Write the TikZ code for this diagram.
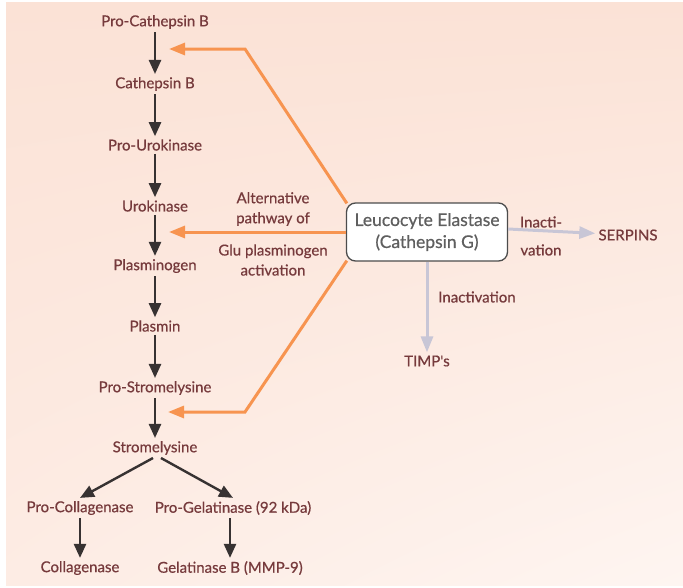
\documentclass[tikz,border=0pt]{standalone}
\usepackage{fontspec}
\setmainfont{Lato}
\newfontfamily\labelfont{Lato}[FakeBold=0.6]
\usetikzlibrary{arrows.meta, shadings}
\definecolor{peach}{RGB}{251,226,214}
\definecolor{peachmid}{RGB}{253,236,228}
\definecolor{peachlight}{RGB}{254,245,241}
\definecolor{textbrown}{RGB}{118,58,60}
\definecolor{boxgrey}{RGB}{95,95,95}
\definecolor{arroworange}{RGB}{247,148,80}
\definecolor{arrowgrey}{RGB}{200,198,214}
\definecolor{arrowdark}{RGB}{55,50,50}
\tikzset{
    step-label/.style = {text=textbrown, font=\labelfont\fontsize{15}{20}\selectfont, inner sep=3pt},
    side-label/.style = {text=textbrown, font=\labelfont\fontsize{15}{18}\selectfont, inner sep=2pt},
    dark-arrow/.style = {draw=arrowdark, line width=2.4pt, -{Triangle[width=12pt,length=14pt]}},
    orange-arrow/.style = {draw=arroworange, line width=3pt, -{Triangle[width=12pt,length=16pt]}},
    grey-arrow/.style = {draw=arrowgrey, line width=3pt, -{Triangle[width=12pt,length=16pt]}},
    elastase-box/.style = {draw=boxgrey!80!black, fill=white, line width=1.3pt, rounded corners=9pt,
        minimum width=161pt, minimum height=58pt, text=boxgrey, align=center,
        font=\labelfont\fontsize{17.5}{22}\selectfont},
}

\begin{document}
\begin{tikzpicture}[x=1pt, y=-1pt]
\useasboundingbox (0,0) rectangle (683,587);
\shade[upper left=peach, upper right=peach, lower left=peachmid, lower right=peachlight] (6,2) rectangle (683,585);

% main cascade
\node[step-label] (procathb) at (155,22) {Pro-Cathepsin B};
\node[step-label] (cathb) at (155,84) {Cathepsin B};
\node[step-label] (prouro) at (155,145) {Pro-Urokinase};
\node[step-label] (uro) at (155,206) {Urokinase};
\node[step-label] (plasminogen) at (155,266) {Plasminogen};
\node[step-label] (plasmin) at (155,326) {Plasmin};
\node[step-label] (prostromel) at (155,388) {Pro-Stromelysine};
\node[step-label] (stromel) at (155,448) {Stromelysine};
\node[step-label] (procoll) at (80,508) {Pro-Collagenase};
\node[step-label] (progel) at (233,508) {Pro-Gelatinase (92 kDa)};
\node[step-label] (coll) at (80,568) {Collagenase};
\node[step-label] (gelb) at (230,568) {Gelatinase B (MMP-9)};

\draw[dark-arrow] (procathb) -- (cathb);
\draw[dark-arrow] (cathb) -- (prouro);
\draw[dark-arrow] (prouro) -- (uro);
\draw[dark-arrow] (uro) -- (plasminogen);
\draw[dark-arrow] (plasminogen) -- (plasmin);
\draw[dark-arrow] (plasmin) -- (prostromel);
\draw[dark-arrow] (prostromel) -- (stromel);
\draw[dark-arrow] ([xshift=-2pt]stromel.south) -- (procoll.north);
\draw[dark-arrow] ([xshift=6pt]stromel.south) -- (progel.north);
\draw[dark-arrow] (procoll) -- (coll);
\draw[dark-arrow] ([xshift=-3pt]progel.south) -- ([xshift=0pt]gelb.north);

% elastase and its targets
\node[elastase-box] (elastase) at (427,232) {Leucocyte Elastase\\(Cathepsin G)};
\coordinate (bend-top) at (245,49);
\coordinate (tip-top) at (169,49);
\coordinate (tip-mid) at (169,232);
\coordinate (bend-bot) at (245,412);
\coordinate (tip-bot) at (168,412);
\draw[orange-arrow] ([xshift=1pt,yshift=-1pt]elastase.north west) -- (bend-top) -- (tip-top);
\draw[orange-arrow] (elastase.west) -- (tip-mid);
\draw[orange-arrow] ([xshift=1pt,yshift=1pt]elastase.south west) -- (bend-bot) -- (tip-bot);
\node[step-label, align=center] (alt-upper) at (273,209) {Alternative\\pathway of};
\node[step-label, align=center] (alt-lower) at (273,260) {Glu plasminogen\\activation};

\node[step-label] (serpins) at (628,235) {SERPINS};
\node[step-label] (timps) at (427,361) {TIMP's};
\draw[grey-arrow] ([yshift=3pt]elastase.east) -- (serpins);
\draw[grey-arrow] (elastase) -- (timps);
\node[side-label] (inacti-top) at (541,222) {Inacti-};
\node[side-label] (inacti-bot) at (541,250) {vation};
\node[side-label] (inact-down) at (477,297) {Inactivation};
\end{tikzpicture}
\end{document}
